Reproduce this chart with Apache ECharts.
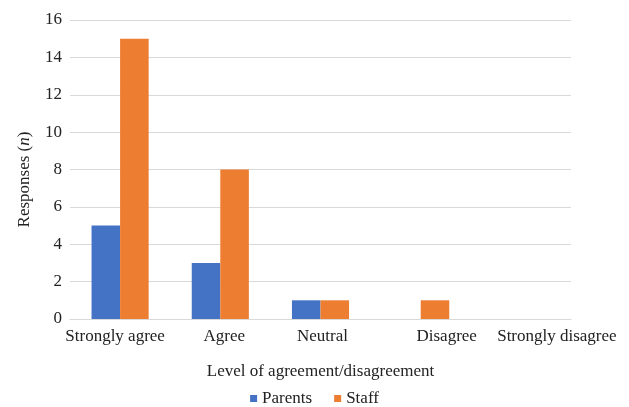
<!DOCTYPE html>
<html>
<head>
<meta charset="utf-8">
<script src="https://cdn.jsdelivr.net/npm/echarts@6/dist/echarts.min.js"></script>
<style>
  html, body { margin: 0; padding: 0; background: #ffffff; }
  #chart { width: 629px; height: 407px; }
</style>
</head>
<body>
<div id="chart"></div>
<script>
// Survey responses by level of agreement
const categories = ['Strongly agree', 'Agree', 'Neutral', 'Disagree', 'Strongly disagree'];
const parents = [5, 3, 1, 0, 0];
const staff = [15, 8, 1, 1, 0];
const yTicks = [0, 2, 4, 6, 8, 10, 12, 14, 16];

const FONT = '"Liberation Serif", "DejaVu Serif", serif';
const FS = 17;
const TXT = '#222';

// label nudges for the axis text (rich styles keyed by category index)
const labelRich = {
  c0: { padding: [0, 10, 0, 0] },
  c1: { padding: [0, 0, 0, 8] },
  c2: { padding: [0, 0, 0, 4] },
  c3: { padding: [0, 0, 0, 52] },
  c4: { padding: [0, 0, 0, 72] }
};
Object.values(labelRich).forEach(s => { s.fontFamily = FONT; s.fontSize = FS; s.color = TXT; });

const chart = echarts.init(document.getElementById('chart'));
chart.setOption({
  animation: false,
  grid: { left: 70, right: 58, top: 20, bottom: 88 },
  legend: {
    data: ['Parents', 'Staff'],
    bottom: 0,
    padding: 0,
    left: 'center',
    icon: 'rect',
    itemWidth: 7,
    itemHeight: 7,
    itemGap: 22,
    textStyle: { fontFamily: FONT, fontSize: FS, color: TXT }
  },
  xAxis: {
    type: 'category',
    data: categories,
    name: 'Level of agreement/disagreement',
    nameLocation: 'middle',
    nameGap: 44,
    nameTextStyle: { fontFamily: FONT, fontSize: FS, color: TXT },
    axisLine: { lineStyle: { color: '#d9d9d9', width: 1 } },
    axisTick: { show: false },
    axisLabel: {
      margin: 9,
      interval: 0,
      formatter: (v, i) => '{c' + i + '|' + v + '}',
      rich: labelRich
    }
  },
  yAxis: {
    type: 'value',
    min: yTicks[0],
    max: yTicks[yTicks.length - 1],
    interval: 2,
    name: 'Responses ({i|n})',
    nameLocation: 'middle',
    nameGap: 37,
    nameRotate: 90,
    nameTextStyle: {
      fontFamily: FONT, fontSize: FS, color: TXT,
      padding: [0, 20, 0, 0],
      rich: { i: { fontFamily: FONT, fontSize: FS, fontStyle: 'italic', color: TXT } }
    },
    axisLine: { show: false },
    axisTick: { show: false },
    axisLabel: { margin: 8, fontFamily: FONT, fontSize: FS, color: TXT },
    splitLine: { lineStyle: { color: '#d9d9d9', width: 1 } }
  },
  series: [
    {
      name: 'Parents',
      type: 'bar',
      data: parents,
      barGap: '0%',
      barCategoryGap: '43%',
      itemStyle: { color: '#4472C4' }
    },
    {
      name: 'Staff',
      type: 'bar',
      data: staff,
      barGap: '0%',
      barCategoryGap: '43%',
      itemStyle: { color: '#ED7D31' }
    }
  ]
});
</script>
</body>
</html>
